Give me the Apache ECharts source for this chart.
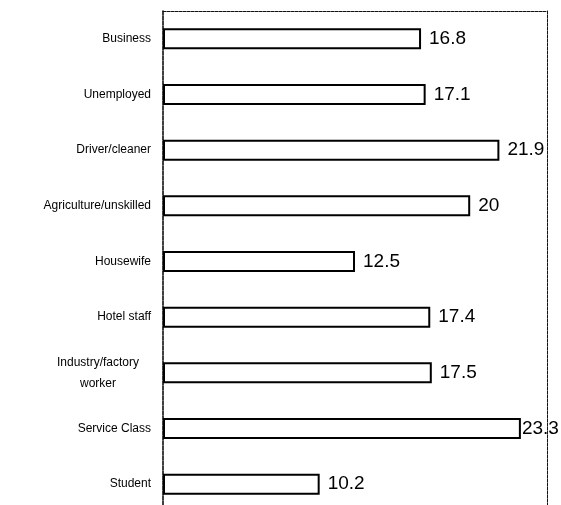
<!DOCTYPE html>
<html>
<head>
<meta charset="utf-8">
<script src="https://cdn.jsdelivr.net/npm/echarts@6/dist/echarts.min.js"></script>
<style>
  html, body { margin: 0; padding: 0; background: #fff; overflow: hidden; }
  /* plot runs past the bottom edge of the window, so the canvas is taller than the view */
  #chart { width: 561px; height: 530px; }
</style>
</head>
<body>
<div id="chart"></div>
<script>
// Occupation categories, top to bottom
const categories = [
  'Business',
  'Unemployed',
  'Driver/cleaner',
  'Agriculture/unskilled',
  'Housewife',
  'Hotel staff',
  'Industry/factory\nworker',
  'Service Class',
  'Student'
];
// Percentage for each occupation
const values = [16.8, 17.1, 21.9, 20, 12.5, 17.4, 17.5, 23.3, 10.2];

const maxValue = Math.max(...values);
// the longest bar's label sits tight against its bar end
const barData = values.map(v => v === maxValue ? { value: v, label: { distance: 1 } } : v);

const chart = echarts.init(document.getElementById('chart'), null, { renderer: 'canvas' });

chart.setOption({
  animation: false,
  backgroundColor: '#ffffff',
  grid: { left: 163, right: 14, top: 11, height: 501, containLabel: false },
  xAxis: [{
    type: 'value',
    position: 'top',
    min: 0,
    max: 25,
    axisLine: { show: true, lineStyle: { color: '#111', width: 1, type: [3, 1] } },
    axisTick: { show: false },
    axisLabel: { show: false },
    splitLine: { show: false }
  }],
  yAxis: [{
    type: 'category',
    data: categories,
    inverse: true,
    axisLine: { show: true, lineStyle: { color: '#000', width: 1.5, type: [4, 1] } },
    axisTick: { show: false },
    axisLabel: {
      color: '#000',
      fontFamily: 'Liberation Sans',
      fontSize: 12,
      margin: 12,
      lineHeight: 21,
      formatter: function (v) {
        if (v.indexOf('\n') >= 0) {
          return v.split('\n').map(s => '{c|' + s + '}').join('\n');
        }
        return v;
      },
      rich: {
        c: { width: 106, align: 'center', fontFamily: 'Liberation Sans', fontSize: 12, color: '#000', lineHeight: 21 }
      }
    },
    splitLine: { show: false }
  }, {
    type: 'category',
    position: 'right',
    data: categories,
    inverse: true,
    axisLine: { show: true, lineStyle: { color: '#111', width: 1, type: [3, 1] } },
    axisTick: { show: false },
    axisLabel: { show: false },
    splitLine: { show: false }
  }],
  series: [{
    type: 'bar',
    data: barData,
    barWidth: 21,
    itemStyle: { color: '#ffffff', borderColor: '#000000', borderWidth: 2 },
    label: {
      show: true,
      position: 'right',
      distance: 8,
      color: '#000',
      fontFamily: 'Liberation Sans',
      fontSize: 19,
      formatter: p => String(p.value)
    }
  }]
});
</script>
</body>
</html>
